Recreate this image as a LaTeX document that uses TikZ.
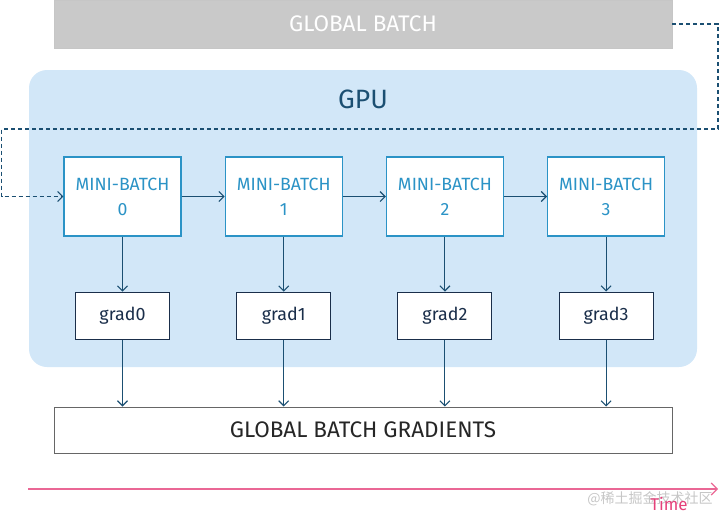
\documentclass[tikz,border=0pt]{standalone}
\usepackage{fontspec}
\setmainfont{Fira Sans}
\newfontfamily\cjk{Noto Sans CJK SC}
\usepackage{xcolor}
\usepackage{tikz}
\usetikzlibrary{positioning,arrows.meta,calc}

\definecolor{gpublue}{HTML}{D2E7F8}
\definecolor{minibd}{HTML}{2B93C6}
\definecolor{navy}{HTML}{1B4F72}
\definecolor{gradtxt}{HTML}{1A2E4A}
\definecolor{pinkax}{HTML}{E5417A}

\begin{document}
\begin{tikzpicture}[
  x=1pt,y=-1pt,
  font=\fontsize{22.5}{26}\selectfont,
  gbox/.style={draw=gray!45,fill=gray!42,text=white,minimum width=618pt,minimum height=48pt,inner sep=0pt},
  gpubox/.style={fill=gpublue,rounded corners=18pt,minimum width=668pt,minimum height=297pt,inner sep=0pt},
  mini/.style={draw=minibd,line width=1.2pt,fill=white,text=minibd,align=center,minimum width=117pt,minimum height=79pt,inner sep=0pt,font=\fontsize{17.7}{25}\selectfont},
  grad/.style={draw=gradtxt,line width=1.1pt,fill=white,text=gradtxt,minimum width=94pt,minimum height=47pt,inner sep=0pt,font=\fontsize{17.9}{20}\selectfont},
  total/.style={draw=gray!80!black,line width=1pt,fill=white,text=gray!30!black,minimum width=618pt,minimum height=46pt,inner sep=0pt},
  flow/.style={draw=navy,line width=1.1pt,-{Straight Barb[length=5pt,width=10pt]}},
  feed/.style={flow,dashed,dash pattern=on 4pt off 3pt},
  >={Straight Barb[length=5pt,width=10pt]},
]
\useasboundingbox (0,0) rectangle (720,514);

% input batch
\node[gbox] (gb) at (363,24) {GLOBAL BATCH};

% GPU area
\node[gpubox] (gpu) at (363,218.5) {};
\node[text=navy,font=\fontsize{26.5}{30}\selectfont] (gpulbl) at (363,99) {GPU};

% mini-batches
\node[mini] (m0) at (122.5,196.5) {MINI-BATCH\\0};
\node[mini,right=43pt of m0] (m1) {MINI-BATCH\\1};
\node[mini,right=43pt of m1] (m2) {MINI-BATCH\\2};
\node[mini,right=43pt of m2] (m3) {MINI-BATCH\\3};

% gradients
\node[grad,below=55pt of m0] (g0) {grad0};
\node[grad,below=55pt of m1] (g1) {grad1};
\node[grad,below=55pt of m2] (g2) {grad2};
\node[grad,below=55pt of m3] (g3) {grad3};

% accumulated result
\node[total] (gg) at (363,430) {GLOBAL BATCH GRADIENTS};

% edges
\coordinate (turnR) at (718,129);
\coordinate (turnL) at (1.5,129);
\draw[feed] (gb.east) -| (turnR) -- (turnL) |- (m0.west);
\draw[flow] (m0) -- (m1);
\draw[flow] (m1) -- (m2);
\draw[flow] (m2) -- (m3);
\foreach \i in {0,1,2,3} {
  \draw[flow] (m\i) -- (g\i);
  \draw[flow] (g\i) -- (g\i |- gg.north);
}

% time axis
\coordinate (t0) at (28,489);
\coordinate (t1) at (718,489);
\draw[draw=pinkax!80,line width=1.2pt,-{Straight Barb[length=6pt,width=12pt]}] (t0) -- (t1);
\node[text=gray!45,font=\cjk\fontsize{14}{14}\selectfont] (wm) at (650,499) {@稀土掘金技术社区};
\node[text=pinkax,font=\fontsize{17}{17}\selectfont] (time) at (669,504) {Time};
\end{tikzpicture}
\end{document}
